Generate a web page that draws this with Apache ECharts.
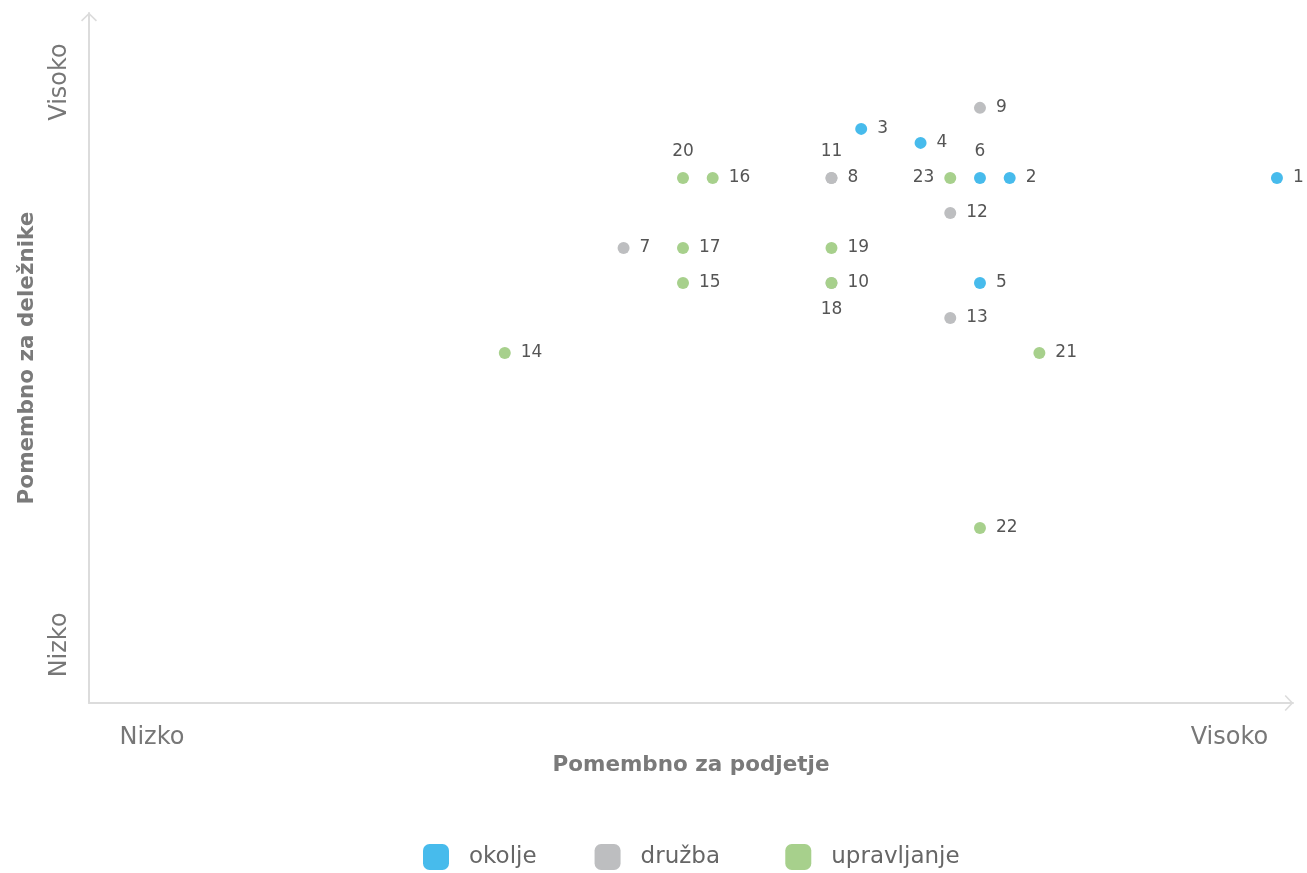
<!DOCTYPE html>
<html>
<head>
<meta charset="utf-8">
<script src="https://cdn.jsdelivr.net/npm/echarts@6/dist/echarts.min.js"></script>
<style>
html,body{margin:0;padding:0;background:#fff;}
#chart{width:1307px;height:873px;}
</style>
</head>
<body>
<div id="chart"></div>
<script>
// ---- data ----
const seriesNames = ['okolje', 'družba', 'upravljanje'];
const okoljeIds = [1, 2, 3, 4, 5, 6];
const okoljeX = [40, 31, 26, 28, 30, 30];
const okoljeY = [15, 15, 16.4, 16, 12, 15];
const druzbaIds = [7, 8, 9, 10, 11, 12, 13];
const druzbaX = [18, 25, 30, 25, 25, 29, 29];
const druzbaY = [13, 15, 17, 12, 15, 14, 11];
const upravljanjeIds = [14, 15, 16, 17, 18, 19, 20, 21, 22, 23];
const upravljanjeX = [14, 20, 21, 20, 25, 25, 20, 32, 30, 29];
const upravljanjeY = [10, 12, 15, 13, 12, 13, 15, 10, 5, 15];
const xTickLabels = ['Nizko', 'Visoko'];
const yTickLabels = ['Nizko', 'Visoko'];
const xAxisTitle = 'Pomembno za podjetje';
const yAxisTitle = 'Pomembno za deležnike';

// ---- style ----
const colors = ['#47BBEC', '#BDBEC0', '#A7D08C'];
const FONT = 'DejaVu Sans';
const labelPlacement = {6: 'top', 11: 'top', 20: 'top', 18: 'bottom', 23: 'left'};
const X_MAX = 40.54, Y_MAX = 19.71;
const xTickPos = [2.12, 38.4];
const yTickPos = [1.66, 17.74];

function build(ids, xs, ys) {
  return ids.map((id, i) => {
    const pos = labelPlacement[id] || 'right';
    return {
      value: [xs[i], ys[i], id],
      label: {position: pos, distance: pos === 'top' ? 12 : (pos === 'bottom' ? 12 : 10)}
    };
  });
}
const chevron = 'path://M8,0 L16,7.6 L14.9,8.8 L8,2.2 L1.1,8.8 L0,7.6 Z';

const groups = [
  build(okoljeIds, okoljeX, okoljeY),
  build(druzbaIds, druzbaX, druzbaY),
  build(upravljanjeIds, upravljanjeX, upravljanjeY)
];

const chart = echarts.init(document.getElementById('chart'), null, {renderer: 'canvas'});
chart.setOption({
  animation: false,
  textStyle: {fontFamily: FONT},
  grid: {left: 89, right: 14, top: 13, bottom: 170, containLabel: false},
  legend: {
    data: seriesNames,
    left: 418, top: 839,
    icon: 'roundRect',
    itemWidth: 26, itemHeight: 26,
    itemGap: 58,
    formatter: (name) => name === seriesNames[1] ? name + ' ' : name,
    textStyle: {fontFamily: FONT, fontSize: 23, color: '#666', padding: [0, 0, 0, 15]}
  },
  xAxis: {
    type: 'value', min: 0, max: X_MAX,
    name: xAxisTitle, nameLocation: 'middle', nameGap: 45,
    nameTextStyle: {fontFamily: FONT, fontSize: 21.5, fontWeight: 'bold', color: '#7a7a7a'},
    axisLine: {show: true, lineStyle: {color: '#dcdcdc', width: 2}, symbol: ['none', chevron], symbolSize: [16, 9], symbolOffset: [0, -4]},
    axisTick: {show: false},
    splitLine: {show: false},
    axisLabel: {
      customValues: xTickPos, margin: 23,
      fontFamily: FONT, fontSize: 24, color: '#777',
      formatter: (v) => xTickLabels[xTickPos.indexOf(v)] || ''
    }
  },
  yAxis: {
    type: 'value', min: 0, max: Y_MAX,
    name: yAxisTitle, nameLocation: 'middle', nameGap: 51,
    nameTextStyle: {fontFamily: FONT, fontSize: 21.5, fontWeight: 'bold', color: '#7a7a7a'},
    axisLine: {show: true, lineStyle: {color: '#dcdcdc', width: 2}, symbol: ['none', chevron], symbolSize: [16, 9], symbolOffset: [0, -4]},
    axisTick: {show: false},
    splitLine: {show: false},
    axisLabel: {
      customValues: yTickPos, margin: 17, rotate: 90,
      fontFamily: FONT, fontSize: 24, color: '#777',
      formatter: (v) => yTickLabels[yTickPos.indexOf(v)] || ''
    }
  },
  series: seriesNames.map((n, k) => ({
    name: n,
    type: 'scatter',
    symbol: 'circle',
    symbolSize: 12,
    itemStyle: {color: colors[k], opacity: 1},
    label: {
      show: true,
      formatter: (p) => String(p.value[2]),
      fontFamily: FONT, fontSize: 17, color: '#555'
    },
    data: groups[k]
  }))
});
</script>
</body>
</html>
